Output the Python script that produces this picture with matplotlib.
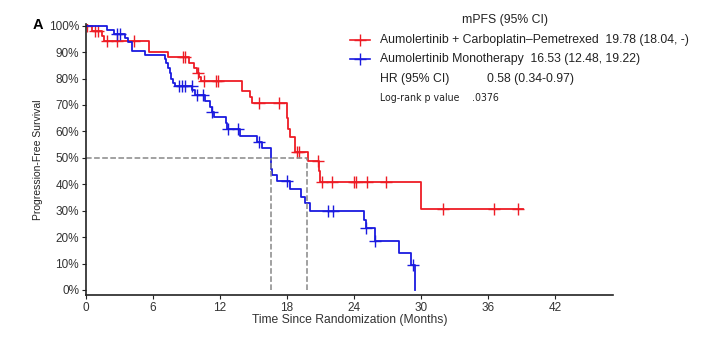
import matplotlib.pyplot as plt
from matplotlib.lines import Line2D
import numpy as np

plt.rcParams['font.family'] = ['Liberation Sans', 'DejaVu Sans']

# Kaplan-Meier curves: event times (months) and survival after each drop
red_t = [0.5, 1.4, 1.6, 5.6, 7.3, 9.2, 9.7, 9.9, 10.1, 10.3, 14.0, 14.7, 14.9,
         18.0, 18.1, 18.3, 18.7, 19.85, 20.9, 20.95, 21.0, 30.0]
red_s = [0.98, 0.96, 0.943, 0.90, 0.88, 0.86, 0.84, 0.82, 0.805, 0.79, 0.753, 0.731, 0.706,
         0.65, 0.61, 0.58, 0.523, 0.488, 0.45, 0.43, 0.41, 0.308]
red_end = 39.1
red_cens = [0.1, 0.8, 1.1, 1.9, 2.8, 4.3, 8.7, 8.9, 10.0, 10.6, 11.6, 11.8, 15.5, 17.3,
            18.9, 19.1, 20.8, 21.1, 22.0, 24.0, 24.2, 25.2, 26.9, 32.0, 36.5, 38.7]

blue_t = [1.9, 2.5, 3.5, 3.8, 4.1, 5.3, 7.05, 7.2, 7.35, 7.5, 7.6, 7.8, 8.0, 9.5, 9.75,
          10.65, 11.1, 11.25, 11.5, 12.5, 12.65, 13.8, 15.3, 15.8, 16.53, 16.6, 16.7, 17.1,
          18.3, 19.3, 19.6, 20.05, 24.9, 25.05, 25.9, 28.05, 29.1, 29.45]
blue_s = [0.985, 0.97, 0.955, 0.94, 0.905, 0.89, 0.875, 0.86, 0.84, 0.82, 0.80, 0.785, 0.772,
          0.757, 0.738, 0.716, 0.694, 0.675, 0.656, 0.63, 0.608, 0.583, 0.561, 0.537, 0.478,
          0.456, 0.435, 0.412, 0.381, 0.353, 0.33, 0.30, 0.265, 0.233, 0.187, 0.141, 0.095, 0.0]
blue_end = 29.45
blue_cens = [2.75, 3.0, 8.3, 8.6, 8.9, 9.45, 9.9, 10.45, 11.3, 12.75, 13.6, 15.5, 18.0,
             21.7, 22.1, 25.1, 25.9, 29.3]

red_median = 19.78
blue_median = 16.53

red_c = '#ee1c25'
blue_c = '#1a1adf'


def km(times, surv, end):
    t = np.concatenate([[0], times, [end]])
    s = np.concatenate([[1.0], surv, [surv[-1]]])
    return t, s


def at(times, surv, c):
    idx = np.searchsorted(times, c, side='right') - 1
    return np.where(idx < 0, 1.0, np.array(surv)[np.clip(idx, 0, None)])


fig = plt.figure(figsize=(7.15, 3.45), dpi=100)
ax = fig.add_axes([0.1203, 0.145, 0.737, 0.7843])

for tt, ss, end, cens, col in [(red_t, red_s, red_end, red_cens, red_c),
                               (blue_t, blue_s, blue_end, blue_cens, blue_c)]:
    t, s = km(tt, ss, end)
    ax.step(t, s, where='post', color=col, lw=1.3)
    ax.plot(cens, at(tt, ss, cens), ls='none', marker='+', ms=8, mew=1.0, color=col)

# median guide lines
ax.plot([0, red_median], [0.5, 0.5], ls='--', color='#888888', lw=1.1)
for m in (blue_median, red_median):
    ax.plot([m, m], [0, 0.5], ls='--', color='#888888', lw=1.1)

ax.set_xlim(0, 47.2)
ax.set_ylim(-0.019, 1.005)
ax.set_xticks(np.arange(0, 43, 6))
ax.set_yticks(np.arange(0, 1.01, 0.1))
ax.set_yticklabels([f'{int(round(v * 100))}%' for v in np.arange(0, 1.01, 0.1)])
ax.tick_params(labelsize=8.5, length=3, width=0.8, colors='#222222', labelcolor='#333333', pad=2)
for sp in ['top', 'right']:
    ax.spines[sp].set_visible(False)
for sp in ['left', 'bottom']:
    ax.spines[sp].set_linewidth(1.2)
    ax.spines[sp].set_color('#222222')
ax.set_xlabel('Time Since Randomization (Months)', fontsize=8.7, color='#333333', labelpad=0)
ax.set_ylabel('Progression-Free Survival', fontsize=7.5, color='#222222', labelpad=4)

fig.text(33 / 715, 1 - 25 / 345, 'A', fontsize=10.5, fontweight='bold', va='center')

# legend / annotation block
def fy(px):
    return 1 - px / 345

fs = 8.8
fig.text(462 / 715, fy(20), 'mPFS (95% CI)', fontsize=fs, va='center', color='#222222')
for ypx, col, lab in [(40, red_c, 'Aumolertinib + Carboplatin\u2013Pemetrexed  19.78 (18.04, -)'),
                      (59, blue_c, 'Aumolertinib Monotherapy  16.53 (12.48, 19.22)')]:
    fig.add_artist(Line2D([350 / 715, 370 / 715], [fy(ypx), fy(ypx)], color=col, lw=1.2,
                          transform=fig.transFigure))
    fig.add_artist(Line2D([360 / 715], [fy(ypx)], color=col, marker='+', ms=8, mew=1.0,
                          transform=fig.transFigure))
    fig.text(380 / 715, fy(ypx), lab, fontsize=fs, va='center', color='#222222')
fig.text(380 / 715, fy(79), 'HR (95% CI)', fontsize=fs, va='center', color='#222222')
fig.text(487 / 715, fy(79), '0.58 (0.34-0.97)', fontsize=fs, va='center', color='#222222')
fig.text(380 / 715, fy(98), 'Log-rank p value', fontsize=7.6, va='center', color='#222222',
         family='DejaVu Sans', stretch='condensed')
fig.text(472 / 715, fy(98), '.0376', fontsize=7.6, va='center', color='#222222',
         family='DejaVu Sans', stretch='condensed')

fig.savefig('out.png', dpi=100)
